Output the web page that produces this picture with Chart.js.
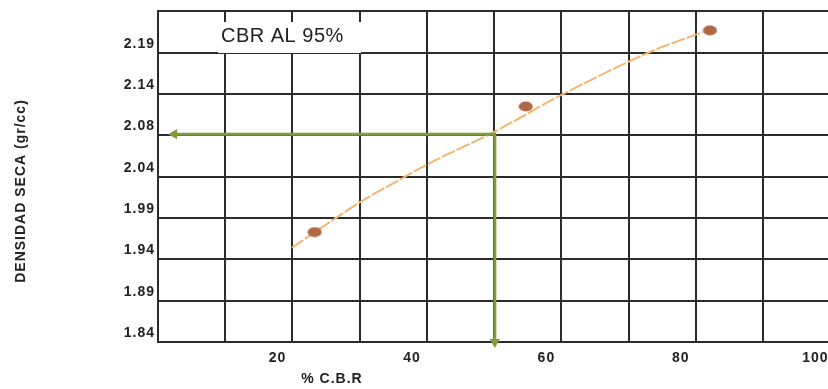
<!DOCTYPE html>
<html>
<head>
<meta charset="utf-8">
<script src="https://cdn.jsdelivr.net/npm/chart.js@4"></script>
<style>
  html, body { margin: 0; padding: 0; background: #fff; overflow: hidden; }
  #wrap { width: 850px; height: 389px; }
</style>
</head>
<body>
<div id="wrap"><canvas id="cbrChart" width="850" height="389"></canvas></div>
<script>
// valores
const xTickLabels = ['', '', '20', '', '40', '', '60', '', '80', '', '100'];
const yTickLabels = ['1.84', '1.89', '1.94', '1.99', '2.04', '2.08', '2.14', '2.19', ''];

const cbrEnsayo = [23.3, 54.7, 82.1];
const densidadEnsayo = [1.973, 2.125, 2.217];

const cbrCurva = [19.9, 30.2, 35.9, 40.3, 50.2, 60.0, 72.9, 81.0];
const densidadCurva = [1.954, 2.010, 2.036, 2.056, 2.095, 2.139, 2.190, 2.215];

const cbr95 = 50.1;
const densidad95 = 2.0915;

const toPoints = (xs, ys) => xs.map((x, i) => ({ x: x, y: ys[i] }));

// punto con forma de elipse
const dot = document.createElement('canvas');
dot.width = 15;
dot.height = 11;
const g = dot.getContext('2d');
g.fillStyle = '#b06846';
g.beginPath();
g.ellipse(7.5, 5.5, 7, 5, 0, 0, Math.PI * 2);
g.fill();

const FONT = "'Liberation Sans', Arial, sans-serif";

const textos = {
  id: 'textos',
  beforeDraw(chart) {
    chart.ctx.letterSpacing = '1px';
  },
  beforeDatasetsDraw(chart) {
    const ctx = chart.ctx;
    ctx.save();
    ctx.fillStyle = '#fff';
    ctx.fillRect(218, 22, 143, 31);
    ctx.fillStyle = '#222';
    ctx.font = '20px ' + FONT;
    ctx.letterSpacing = '0.5px';
    ctx.textAlign = 'left';
    ctx.textBaseline = 'middle';
    ctx.fillText('CBR AL 95%', 221, 36);
    ctx.restore();
  },
  afterDraw(chart) {
    const ctx = chart.ctx;
    ctx.save();
    ctx.fillStyle = '#222';
    ctx.font = 'bold 14px ' + FONT;
    ctx.letterSpacing = '1px';
    ctx.textAlign = 'center';
    ctx.textBaseline = 'middle';
    ctx.fillText('% C.B.R', 332, 379);
    ctx.translate(21, 191);
    ctx.rotate(-Math.PI / 2);
    ctx.fillText('DENSIDAD SECA (gr/cc)', 0, 0);
    ctx.restore();
  }
};

new Chart(document.getElementById('cbrChart').getContext('2d'), {
  type: 'scatter',
  data: {
    datasets: [
      {
        data: toPoints(cbrEnsayo, densidadEnsayo),
        pointStyle: dot,
        pointRadius: 6,
        showLine: false,
        order: 0
      },
      {
        data: toPoints([2.4, cbr95, cbr95], [densidad95, densidad95, 1.84]),
        showLine: true,
        borderColor: '#7e9e3c',
        borderWidth: 3,
        backgroundColor: '#7e9e3c',
        pointStyle: 'triangle',
        pointRadius: [6, 0, 6],
        rotation: [-90, 0, 180],
        pointBorderWidth: 0,
        clip: false,
        order: 1
      },
      {
        data: toPoints(cbrCurva, densidadCurva),
        showLine: true,
        borderColor: '#f3b571',
        borderWidth: 2,
        borderDash: [14, 2],
        tension: 0.3,
        pointRadius: 0,
        order: 2
      }
    ]
  },
  options: {
    responsive: false,
    animation: false,
    devicePixelRatio: 1,
    layout: { padding: { top: 8, right: 17, left: 0, bottom: 0 } },
    plugins: {
      legend: { display: false },
      tooltip: { enabled: false }
    },
    scales: {
      x: {
        type: 'linear',
        min: 0,
        max: 100,
        afterFit(scale) { scale.height = 47; },
        ticks: {
          stepSize: 10,
          autoSkip: false,
          maxRotation: 0,
          padding: 8,
          labelOffset: -15,
          color: '#222',
          font: { family: FONT, size: 14, weight: 'bold' },
          callback: (v, i) => xTickLabels[i]
        },
        grid: { color: '#2b2b2b', lineWidth: 2, drawTicks: false },
        border: { color: '#2b2b2b', width: 2 }
      },
      y: {
        type: 'linear',
        min: 1.84,
        max: 2.24,
        afterFit(scale) { scale.width = 158; },
        ticks: {
          stepSize: 0.05,
          autoSkip: false,
          padding: 3,
          labelOffset: -9,
          color: '#222',
          font: { family: FONT, size: 14, weight: 'bold' },
          callback: (v, i) => yTickLabels[i]
        },
        grid: { color: '#2b2b2b', lineWidth: 2, drawTicks: false },
        border: { color: '#2b2b2b', width: 2 }
      }
    }
  },
  plugins: [textos]
});
</script>
</body>
</html>
